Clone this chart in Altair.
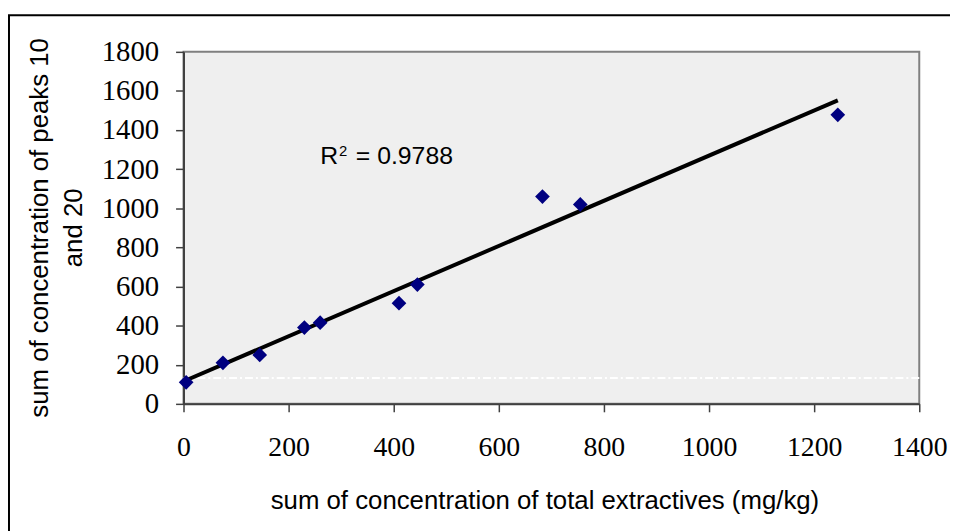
import altair as alt
import pandas as pd

# data
total_extractives = [5, 75, 145, 230, 260, 410, 445, 683, 755, 1245]
peaks_10_20 = [110, 210, 250, 390, 415, 515, 610, 1060, 1020, 1478]
x_ticks = [0, 200, 400, 600, 800, 1000, 1200, 1400]
y_ticks = [0, 200, 400, 600, 800, 1000, 1200, 1400, 1600, 1800]
r2_label = ["R", "2", "= 0.9788"]
r2_pos = [260, 1226]
artifact_y = 132

df = pd.DataFrame({"x": total_extractives, "y": peaks_10_20})

xs = alt.Scale(domain=[0, 1400], nice=False)
ys = alt.Scale(domain=[0, 1800], nice=False)

x_enc = alt.X(
    "x:Q", scale=xs,
    title="sum of concentration of total extractives (mg/kg)",
    axis=alt.Axis(values=x_ticks, format="d", grid=False, labelOverlap=False,
                  labelFlush=False, labelFont="Liberation Serif",
                  labelFontSize=28, labelColor="black", labelPadding=22,
                  tickSize=8, tickColor="#404040", domainColor="#404040",
                  domainWidth=2, tickWidth=1.5,
                  titleFont="Liberation Sans", titleFontSize=26,
                  titleFontWeight="normal", titleColor="black",
                  titleBaseline="middle", titleY=98, titleX=364),
)
y_enc = alt.Y(
    "y:Q", scale=ys,
    title=["sum of concentration of peaks 10", "and 20"],
    axis=alt.Axis(values=y_ticks, format="d", grid=False, labelOverlap=False,
                  labelFlush=False, labelFont="Liberation Serif",
                  labelFontSize=29, labelColor="black", labelPadding=17,
                  tickSize=8, tickColor="#404040", domainColor="#404040",
                  domainWidth=2, tickWidth=1.5,
                  titleFont="Liberation Sans", titleFontSize=26,
                  titleFontWeight="normal", titleColor="black",
                  titleAngle=270, titleBaseline="middle", titleAlign="center",
                  titleLineHeight=34, titleX=-145, titleY=177),
)

base = alt.Chart(df)

frame = alt.Chart(alt.Data(values=[{}])).mark_rect(
    fill=None, stroke="black", strokeWidth=2
).encode(x=alt.value(-176), x2=alt.value(800), y=alt.value(-37), y2=alt.value(520))

artifact = alt.Chart(alt.Data(values=[{"y": artifact_y}])).mark_rule(
    color="white", strokeWidth=2, strokeDash=[8, 3, 2, 3]
).encode(y=y_enc)

points = base.mark_point(shape="diamond", filled=True, color="#000080",
                         size=220, opacity=1).encode(x=x_enc, y=y_enc)

trend = base.transform_regression("x", "y").mark_line(
    color="black", strokeWidth=4
).encode(x=x_enc, y=y_enc)

lab = pd.DataFrame({"x": [r2_pos[0]], "y": [r2_pos[1]]})
r_txt = alt.Chart(lab).mark_text(text=r2_label[0], font="Liberation Sans", fontSize=25,
                                 align="left", baseline="alphabetic", color="black").encode(
    x=x_enc, y=y_enc)
sup_txt = alt.Chart(lab).mark_text(text=r2_label[1], font="Liberation Sans", fontSize=15,
                                   align="left", baseline="alphabetic", dx=19, dy=-8,
                                   color="black").encode(
    x=x_enc, y=y_enc)
eq_txt = alt.Chart(lab).mark_text(text=r2_label[2], font="Liberation Sans", fontSize=25,
                                  align="left", baseline="alphabetic", dx=36,
                                  color="black").encode(
    x=x_enc, y=y_enc)

chart = alt.layer(artifact, trend, points, r_txt, sup_txt, eq_txt, frame).properties(
    width=742, height=355,
    autosize=alt.AutoSizeParams(type="none"),
    padding={"left": 177, "top": 42, "right": 31, "bottom": 126},
).configure_view(fill="#EFEFEF", stroke="#808080", strokeWidth=2)

chart.save("out.html", embed_options={"renderer": "svg", "actions": False})
